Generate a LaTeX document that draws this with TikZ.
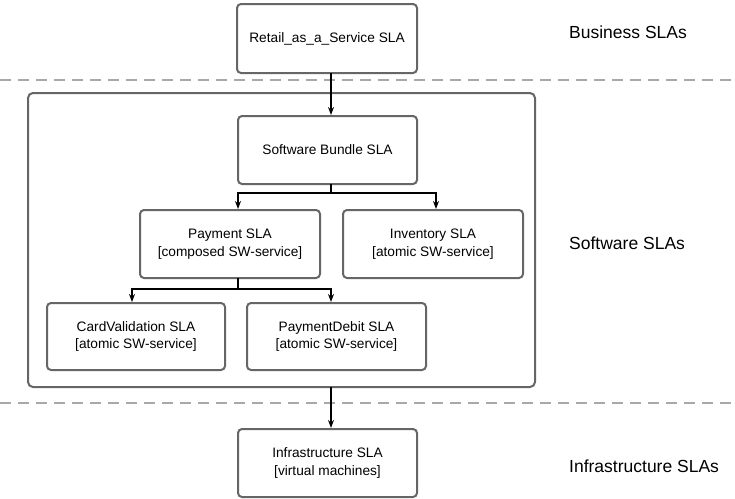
\documentclass[tikz,border=0pt]{standalone}
\usepackage{fontspec}
\setmainfont{Liberation Sans}
\usetikzlibrary{arrows.meta}
\definecolor{boxgray}{HTML}{666666}
\definecolor{dashgray}{HTML}{A8A8A8}
\tikzset{
  x=1pt, y=-1pt,
  slabox/.style={draw=boxgray, line width=2pt, rounded corners=4pt, fill=white,
    anchor=north west, align=center, inner sep=0pt,
    font=\fontsize{13.7}{17.5}\selectfont},
  container/.style={draw=boxgray, line width=2pt, rounded corners=5pt, anchor=north west, inner sep=0pt},
  arr/.style={draw=black, line width=1.6pt, -{Stealth[length=8pt,width=6pt]}},
  sep/.style={draw=dashgray, line width=2pt, dash pattern=on 11pt off 7pt},
  layer/.style={anchor=west, inner sep=0pt, font=\fontsize{17.5}{21}\selectfont}
}
\begin{document}
\begin{tikzpicture}
\useasboundingbox (0,0) rectangle (735,498);

% separators
\coordinate (s1a) at (0,80); \coordinate (s1b) at (735,80);
\coordinate (s2a) at (0,403); \coordinate (s2b) at (735,403);
\draw[sep] (s1a) -- (s1b);
\draw[sep] (s2a) -- (s2b);

% container
\node[container, minimum width=507pt, minimum height=294pt] (sw) at (27,92) {};

% boxes
\node[slabox, minimum width=180pt, minimum height=69pt] (retail) at (236,3) {Retail\_as\_a\_Service SLA};
\node[slabox, minimum width=179pt, minimum height=68pt] (bundle) at (237,115) {Software Bundle SLA};
\node[slabox, minimum width=180pt, minimum height=68pt] (payment) at (139,209) {Payment SLA\\{}[composed SW-service]};
\node[slabox, minimum width=180pt, minimum height=68pt] (inventory) at (342,209) {Inventory SLA\\{}[atomic SW-service]};
\node[slabox, minimum width=178pt, minimum height=67pt] (card) at (46,302) {CardValidation SLA\\{}[atomic SW-service]};
\node[slabox, minimum width=179pt, minimum height=67pt] (debit) at (246,302) {PaymentDebit SLA\\{}[atomic SW-service]};
\node[slabox, minimum width=179pt, minimum height=68pt] (infra) at (237,428) {Infrastructure SLA\\{}[virtual machines]};

% layer labels
\node[layer] (lb) at (569,32) {Business SLAs};
\node[layer] (ls) at (569,243) {Software SLAs};
\node[layer] (li) at (569,466) {Infrastructure SLAs};

% connectors
\draw[arr] ([xshift=4pt,yshift=1pt]retail.south) -- ([xshift=3.5pt]bundle.north);
\draw[arr] ([xshift=3.5pt,yshift=1pt]bundle.south) -- ++(0,9) -| ([xshift=8pt]payment.north);
\draw[arr] ([xshift=3.5pt,yshift=1pt]bundle.south) -- ++(0,9) -| ([xshift=3pt]inventory.north);
\draw[arr] ([xshift=8pt,yshift=1pt]payment.south) -- ++(0,11) -| ([xshift=-4pt]card.north);
\draw[arr] ([xshift=8pt,yshift=1pt]payment.south) -- ++(0,11) -| ([xshift=-5.5pt]debit.north);
\draw[arr] ([xshift=49.5pt,yshift=1pt]sw.south) -- ([xshift=3.5pt]infra.north);
\end{tikzpicture}
\end{document}
